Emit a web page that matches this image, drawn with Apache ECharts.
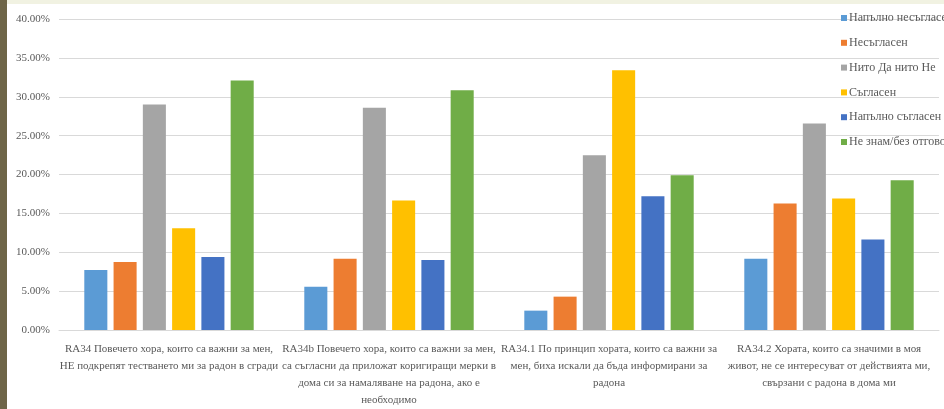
<!DOCTYPE html>
<html><head><meta charset="utf-8">
<script src="https://cdn.jsdelivr.net/npm/echarts@6/dist/echarts.min.js"></script>
<style>html,body{margin:0;padding:0;background:#fff}#c{width:944px;height:409px}</style>
</head><body><div id="c"></div>
<script>
const categories = [
  "RA34 Повечето хора, които са важни за мен,\nНЕ подкрепят тестването ми за радон в сгради",
  "RA34b Повечето хора, които са важни за мен,\nса съгласни да приложат коригиращи мерки в\nдома си за намаляване на радона, ако е\nнеобходимо",
  "RA34.1 По принцип хората, които са важни за\nмен, биха искали да бъда информирани за\nрадона",
  "RA34.2 Хората, които са значими в моя\nживот, не се интересуват от действията ми,\nсвързани с радона в дома ми"
];
const seriesNames = ["Напълно несъгласен", "Несъгласен", "Нито Да нито Не", "Съгласен", "Напълно съгласен", "Не знам/без отговор"];
const stronglyDisagree = [7.71, 5.57, 2.49, 9.17];
const disagree = [8.73, 9.17, 4.29, 16.27];
const neutral = [28.99, 28.57, 22.48, 26.55];
const agree = [13.1, 16.66, 33.4, 16.92];
const stronglyAgree = [9.38, 8.99, 17.21, 11.65];
const dontKnow = [32.1, 30.83, 19.91, 19.27];
const yTicks = [0, 5, 10, 15, 20, 25, 30, 35, 40];

const values = [stronglyDisagree, disagree, neutral, agree, stronglyAgree, dontKnow];
const colors = ["#5B9BD5", "#ED7D31", "#A5A5A5", "#FFC000", "#4472C4", "#70AD47"];
const font = "'Liberation Serif', 'DejaVu Serif', serif";

const chart = echarts.init(document.getElementById('c'), null, {renderer: 'canvas'});
chart.setOption({
  animation: false,
  backgroundColor: '#fff',
  color: colors,
  grid: {left: 59, right: 5, top: 19, bottom: 78, containLabel: false},
  legend: {
    orient: 'vertical', left: 836, top: 7,
    itemWidth: 6, itemHeight: 6, itemGap: 12.8,
    icon: 'rect',
    textStyle: {fontFamily: font, fontSize: 12, color: '#595959', lineHeight: 12, padding: [0, 0, 0, -3]},
    data: seriesNames
  },
  xAxis: {
    type: 'category', data: categories,
    axisLine: {lineStyle: {color: '#d9d9d9', width: 1}},
    axisTick: {show: false},
    axisLabel: {fontFamily: font, fontSize: 11, color: '#595959', lineHeight: 17, margin: 11, interval: 0, align: 'center'}
  },
  yAxis: {
    type: 'value', min: yTicks[0], max: yTicks[yTicks.length - 1], interval: 5,
    axisLine: {show: false}, axisTick: {show: false},
    splitLine: {lineStyle: {color: '#d9d9d9', width: 1}},
    axisLabel: {fontFamily: font, fontSize: 11, color: '#595959', margin: 9, formatter: v => v.toFixed(2) + '%'}
  },
  series: seriesNames.map((n, i) => ({
    name: n, type: 'bar', data: values[i],
    barGap: '27%', barCategoryGap: '23%'
  })),
  graphic: [
    {type: 'rect', left: 0, top: 0, shape: {width: 944, height: 4}, style: {fill: '#f1f2e2'}, z: 100},
    {type: 'rect', left: 0, top: 0, shape: {width: 7, height: 409}, style: {fill: '#6e6548'}, z: 101}
  ]
});
</script></body></html>
